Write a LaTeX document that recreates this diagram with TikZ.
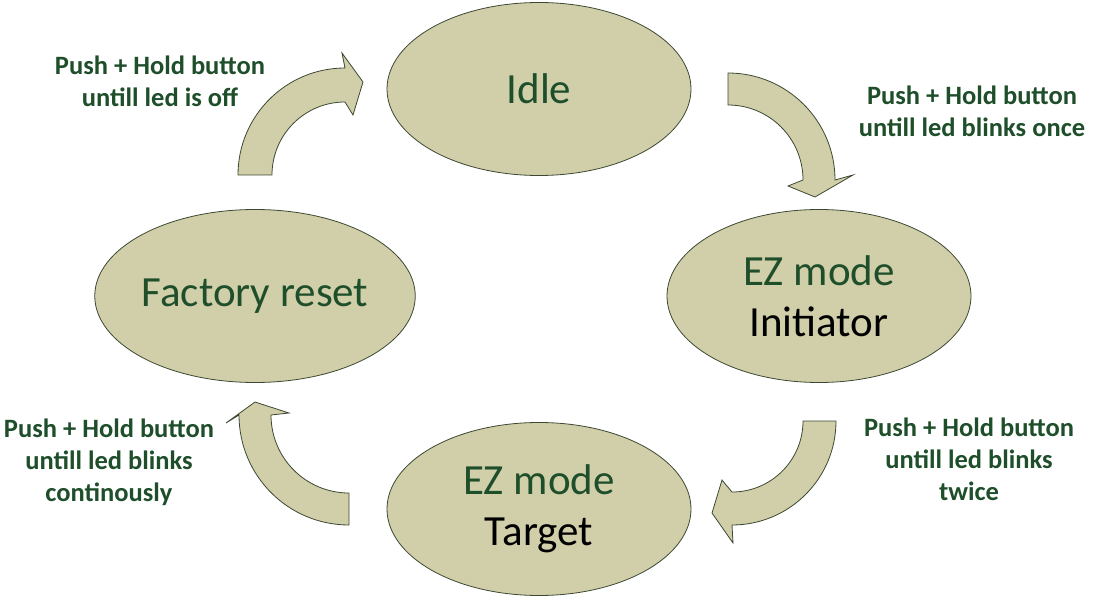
\documentclass[tikz,border=0pt]{standalone}
\usepackage{fontspec}
\setmainfont{Carlito}
\usepackage{xcolor}
\usetikzlibrary{shapes,positioning,calc}
\definecolor{statefill}{RGB}{209,207,169}
\definecolor{stateline}{RGB}{60,72,50}
\definecolor{darkgreen}{RGB}{30,78,42}
\tikzset{
    state/.style={ellipse, draw=stateline, fill=statefill, line width=0.8pt,
        minimum width=304pt, minimum height=173pt, inner sep=0pt, align=center,
        text=darkgreen, font=\fontsize{43}{51}\selectfont},
    blockarrow/.style={draw=stateline, fill=statefill, line width=0.8pt, line join=miter},
    hint/.style={align=center, text=darkgreen, font=\fontsize{26.5}{32}\selectfont\bfseries}
}
\begin{document}
\begin{tikzpicture}[x=1pt,y=1pt]
    \useasboundingbox (0,0) rectangle (1094,595);
    % States
    \node[state] (idle) at (539,506) {Idle};
    \node[state] (init) at (819,299) {EZ mode\\\textcolor{black}{Initiator}};
    \node[state] (target) at (539,86) {EZ mode\\\textcolor{black}{Target}};
    \node[state] (reset) at (255,299) {Factory reset};

    % Curved arrows
    \draw[blockarrow] (238,420) arc[start angle=180, end angle=90, radius=107]
        -- (342,542) -- (363,513) -- (353,480) -- (345,493)
        arc[start angle=90, end angle=180, radius=73] -- cycle;
    \draw[blockarrow] (728,522) arc[start angle=90, end angle=0, radius=107]
        -- (853,420) -- (815,398) -- (788,409) -- (803,415)
        arc[start angle=0, end angle=90, radius=75] -- cycle;
    \draw[blockarrow] (836,174) arc[start angle=0, end angle=-90, radius=104]
        -- (733,52) -- (712,82) -- (722,115) -- (732,103)
        arc[start angle=-90, end angle=0, radius=71] -- cycle;
    \draw[blockarrow] (349,70) arc[start angle=270, end angle=180, radius=110]
        -- (226,172) -- (255,193) -- (289,182) -- (271,180)
        arc[start angle=180, end angle=270, radius=78] -- cycle;

    % Labels
    \node[hint] (lbloff) at (160,514) {Push + Hold button\\untill led is off};
    \node[hint] (lblonce) at (972,484) {Push + Hold button\\untill led blinks once};
    \node[hint] (lbltwice) at (969,136) {Push + Hold button\\untill led blinks\\twice};
    \node[hint] (lblcont) at (109,133) {Push + Hold button\\untill led blinks\\continously};
\end{tikzpicture}
\end{document}
